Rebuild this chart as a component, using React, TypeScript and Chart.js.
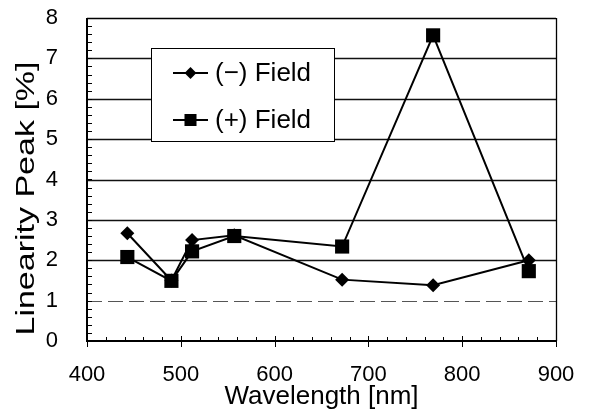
import React, { useEffect, useRef } from "react";
import { Chart, registerables } from "chart.js";

Chart.register(...registerables);

// ---- data ----
const wavelengths = [443, 490, 512, 557, 672, 769, 871];
const minusField = [2.67, 1.5, 2.5, 2.62, 1.52, 1.38, 2.0];
const plusField = [2.08, 1.49, 2.22, 2.6, 2.34, 7.57, 1.73];
const seriesLabels = ["(−) Field", "(+) Field"];
const xTickValues = [400, 500, 600, 700, 800, 900];
const yTickValues = [0, 1, 2, 3, 4, 5, 6, 7, 8];
const xTitle = "Wavelength [nm]";
const yTitle = "Linearity Peak [%]";

const FONT = "'Liberation Sans', Arial, sans-serif";

function drawMarker(ctx: CanvasRenderingContext2D, style: string, x: number, y: number, r: number) {
  ctx.beginPath();
  if (style === "rectRot") {
    ctx.moveTo(x, y - r);
    ctx.lineTo(x + r, y);
    ctx.lineTo(x, y + r);
    ctx.lineTo(x - r, y);
    ctx.closePath();
  } else {
    const s = r * Math.SQRT1_2;
    ctx.rect(x - s, y - s, 2 * s, 2 * s);
  }
  ctx.fill();
}

const framePlugin = {
  id: "frameGrid",
  beforeDatasetsDraw(chart: any) {
    const { ctx, chartArea: a, scales } = chart;
    const xs = scales.x;
    const ys = scales.y;
    ctx.save();
    // horizontal grid lines
    yTickValues.slice(1, -1).forEach((v) => {
      const py = Math.round(ys.getPixelForValue(v)) + 0.5;
      ctx.beginPath();
      if (v === 1) {
        ctx.lineWidth = 1;
        ctx.setLineDash([15, 6]);
        ctx.strokeStyle = "#555";
      } else {
        ctx.lineWidth = 1.3;
        ctx.setLineDash([]);
        ctx.strokeStyle = "#111";
      }
      ctx.moveTo(a.left, py);
      ctx.lineTo(a.right, py);
      ctx.stroke();
    });
    ctx.setLineDash([]);
    ctx.strokeStyle = "#000";
    // minor ticks on y (inside)
    ctx.lineWidth = 1;
    for (let v = ys.min; v <= ys.max + 1e-9; v += 0.2) {
      const py = Math.round(ys.getPixelForValue(v)) + 0.5;
      ctx.beginPath();
      ctx.moveTo(a.left, py);
      ctx.lineTo(a.left + 5, py);
      ctx.stroke();
    }
    // minor ticks on x (inside)
    for (let v = xs.min; v <= xs.max + 1e-9; v += 20) {
      const px = Math.round(xs.getPixelForValue(v)) + 0.5;
      ctx.beginPath();
      ctx.moveTo(px, a.bottom);
      ctx.lineTo(px, a.bottom - 4);
      ctx.stroke();
    }
    // major ticks on x (crossing)
    xTickValues.forEach((v) => {
      const px = Math.round(xs.getPixelForValue(v)) + 0.5;
      ctx.beginPath();
      ctx.moveTo(px, a.bottom - 5);
      ctx.lineTo(px, a.bottom + 6);
      ctx.stroke();
    });
    // frame: top & right thin
    ctx.lineWidth = 1.3;
    ctx.beginPath();
    ctx.moveTo(a.left, Math.round(a.top) + 0.5);
    ctx.lineTo(a.right, Math.round(a.top) + 0.5);
    ctx.moveTo(Math.round(a.right) + 0.5, a.top);
    ctx.lineTo(Math.round(a.right) + 0.5, a.bottom);
    ctx.stroke();
    // left & bottom thick
    ctx.lineWidth = 2;
    ctx.beginPath();
    ctx.moveTo(Math.round(a.left), a.top);
    ctx.lineTo(Math.round(a.left), Math.round(a.bottom));
    ctx.lineTo(a.right + 1, Math.round(a.bottom));
    ctx.stroke();
    ctx.restore();
  },
  afterDraw(chart: any) {
    const { ctx, chartArea: a } = chart;
    ctx.save();
    // ---- legend ----
    const bx = a.left + 64;
    const by = a.top + 30;
    const bw = 183;
    const bh = 93;
    ctx.fillStyle = "#fff";
    ctx.fillRect(bx, by, bw, bh);
    ctx.strokeStyle = "#000";
    ctx.lineWidth = 1;
    ctx.strokeRect(Math.round(bx) + 0.5, Math.round(by) + 0.5, bw, bh);
    const datasets = chart.data.datasets;
    const rows = [by + 25, by + 72];
    datasets.forEach((ds: any, i: number) => {
      const cy = rows[i];
      ctx.strokeStyle = "#000";
      ctx.lineWidth = 2;
      ctx.beginPath();
      ctx.moveTo(bx + 22, cy);
      ctx.lineTo(bx + 57, cy);
      ctx.stroke();
      ctx.fillStyle = "#000";
      drawMarker(ctx, ds.pointStyle, bx + 39.5, cy, ds.pointRadius * 0.85);
      ctx.font = `26px ${FONT}`;
      ctx.textBaseline = "middle";
      ctx.textAlign = "left";
      ctx.fillText(ds.label, bx + 64, cy + 1);
    });
    // ---- y title (stretched like the scanned original) ----
    ctx.translate(26, (a.top + a.bottom) / 2 + 19);
    ctx.rotate(-Math.PI / 2);
    ctx.scale(1.36, 1);
    ctx.font = `25px ${FONT}`;
    ctx.fillStyle = "#000";
    ctx.textAlign = "center";
    ctx.textBaseline = "alphabetic";
    ctx.fillText(yTitle, 0, 0);
    ctx.restore();
  },
};

export default function App() {
  const ref = useRef<HTMLCanvasElement>(null);
  useEffect(() => {
    document.documentElement.style.overflow = "hidden";
    document.body.style.overflow = "hidden";
    const chart = new Chart(ref.current as HTMLCanvasElement, {
      type: "line",
      data: {
        datasets: [
          {
            label: seriesLabels[0],
            data: wavelengths.map((w, i) => ({ x: w, y: minusField[i] })),
            borderColor: "#000",
            backgroundColor: "#000",
            borderWidth: 2,
            pointStyle: "rectRot",
            pointRadius: 7,
            pointBorderWidth: 0,
            pointBackgroundColor: "#000",
            tension: 0,
            order: 2,
          },
          {
            label: seriesLabels[1],
            data: wavelengths.map((w, i) => ({ x: w, y: plusField[i] })),
            borderColor: "#000",
            backgroundColor: "#000",
            borderWidth: 2,
            pointStyle: "rect",
            pointRadius: 10,
            pointBorderWidth: 0,
            pointBackgroundColor: "#000",
            tension: 0,
            order: 1,
          },
        ],
      },
      options: {
        animation: false,
        responsive: true,
        maintainAspectRatio: false,
        layout: { padding: { left: 0, top: 10, right: 25, bottom: 0 } },
        plugins: { legend: { display: false }, tooltip: { enabled: false } },
        scales: {
          x: {
            type: "linear",
            min: xTickValues[0],
            max: xTickValues[xTickValues.length - 1],
            afterBuildTicks: (s: any) => {
              s.ticks = xTickValues.map((v) => ({ value: v }));
            },
            ticks: {
              padding: 21,
              color: "#000",
              font: { family: FONT, size: 22 },
              maxRotation: 0,
              autoSkip: false,
            },
            grid: { display: false, drawTicks: false },
            border: { display: false },
            title: {
              display: true,
              text: xTitle,
              color: "#000",
              font: { family: FONT, size: 26 },
              padding: { top: 0, bottom: 0 },
            },
            afterFit: (s: any) => {
              s.height = 71;
              s.paddingLeft = 0;
              s.paddingRight = 0;
            },
          },
          y: {
            type: "linear",
            min: yTickValues[0],
            max: yTickValues[yTickValues.length - 1],
            afterBuildTicks: (s: any) => {
              s.ticks = yTickValues.map((v) => ({ value: v }));
            },
            ticks: {
              padding: 29,
              color: "#000",
              font: { family: FONT, size: 22 },
              autoSkip: false,
            },
            grid: { display: false, drawTicks: false },
            border: { display: false },
            title: { display: false },
            afterFit: (s: any) => {
              s.width = 79;
              s.paddingTop = 0;
              s.paddingBottom = 0;
            },
          },
        },
      },
      plugins: [framePlugin],
    });
    return () => chart.destroy();
  }, []);
  return (
    <div style={{ width: 573, height: 404, position: "relative" }}>
      <canvas ref={ref} />
    </div>
  );
}
